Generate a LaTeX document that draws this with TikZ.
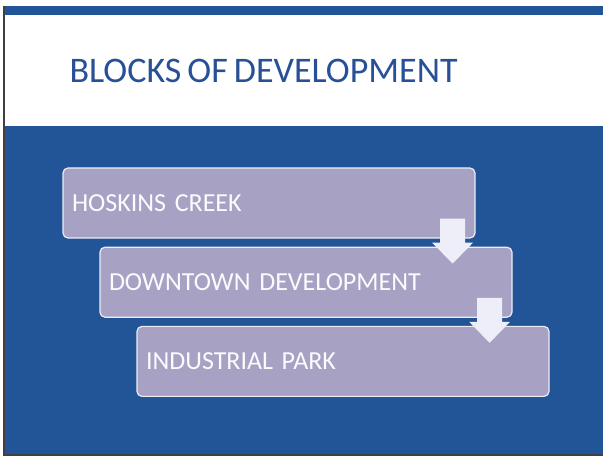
\documentclass[tikz,border=0pt]{standalone}
\usepackage{fontspec}
\setmainfont{Carlito}[WordSpace=0.75]
\usetikzlibrary{positioning}

\definecolor{slideblue}{RGB}{34,84,152}
\definecolor{titleblue}{RGB}{40,80,150}
\definecolor{boxfill}{RGB}{167,162,196}
\definecolor{arrowfill}{RGB}{238,238,248}

\begin{document}
\begin{tikzpicture}[x=1pt,y=1pt,node distance=8pt,
  block/.style={rectangle, rounded corners=5pt, fill=boxfill, draw=white!80!boxfill,
    line width=1.2pt, minimum width=412pt, minimum height=70pt, text width=394pt,
    inner xsep=9pt, align=left, text=white!95!boxfill, font=\fontsize{26}{30}\selectfont},
  flowarrow/.style={fill=arrowfill}]
\useasboundingbox (0,0) rectangle (606,460);

% define the slide
  \fill[white] (0,0) rectangle (606,460);
  \fill[slideblue] (4,5) rectangle (603,454);
  \fill[white] (5,334) rectangle (603,445);
  \draw[black!75, line width=1.2pt] (4,454) -- (4,5) -- (603,5);

% define the title
  \node[anchor=west, text=titleblue, font=\fontsize{36}{40}\selectfont]
    (title) at (66,389) {BLOCKS OF DEVELOPMENT};

% define the blocks
  \node[block] (b1) at (269,257) {HOSKINS CREEK};
  \node[block] (b2) [below=of b1, xshift=37pt] {DOWNTOWN DEVELOPMENT};
  \node[block] (b3) [below=of b2, xshift=37pt] {INDUSTRIAL PARK};

% define the arrows
  \foreach \b in {b1,b2}
    \fill[flowarrow] ([xshift=-23pt,yshift=20pt]\b.south east)
      -- ++(12.5,0) -- ++(0,-24) -- ++(8,0) -- ++(-20.5,-21)
      -- ++(-20.5,21) -- ++(8,0) -- ++(0,24) -- cycle;

\end{tikzpicture}
\end{document}
